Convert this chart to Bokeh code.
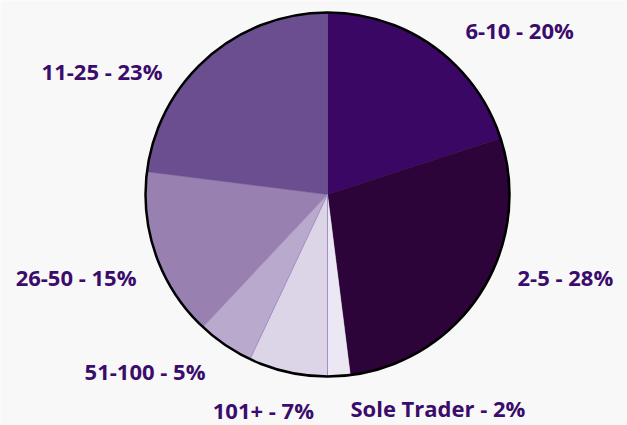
import math
from bokeh.plotting import figure
from bokeh.models import ColumnDataSource
from bokeh.core.properties import value
from bokeh.embed import file_html
from bokeh.resources import INLINE

# ---- data ----
categories = ["6-10", "2-5", "Sole Trader", "101+", "51-100", "26-50", "11-25"]
percents = [20, 28, 2, 7, 5, 15, 23]
colors = ["#3b0764", "#2c0439", "#ece8f3", "#dcd5e7", "#b9a9cc", "#9880b1", "#6b4e90"]

W, H = 627, 425
BG = "#f8f8f8"
TEXT = "#3b0c6b"

cx, cy, r = 327, 231, 182

# wedge angles (clockwise from 12 o'clock)
total = sum(percents)
starts, ends, mids = [], [], []
acc = 0.0
for v in percents:
    a0 = acc / total
    acc += v
    a1 = acc / total
    starts.append(math.pi / 2 - a0 * 2 * math.pi)
    ends.append(math.pi / 2 - a1 * 2 * math.pi)
    mids.append((a0 + a1) / 2 * 2 * math.pi)  # clockwise from top

src = ColumnDataSource(dict(cat=categories, val=percents, color=colors,
                            start=starts, end=ends))

p = figure(width=W, height=H, x_range=(0, W), y_range=(0, H),
           output_backend="svg", toolbar_location=None,
           background_fill_color=BG, border_fill_color=BG,
           min_border=0, outline_line_color=None)
p.axis.visible = False
p.grid.visible = False

p.wedge(x=cx, y=cy, radius=r, start_angle="start", end_angle="end",
        direction="clock", fill_color="color", line_color="color",
        line_width=0.5, source=src)
# thin edge between Sole Trader and 101+
p.wedge(x=cx, y=cy, radius=r, start_angle=starts[3], end_angle=ends[3],
        direction="clock", fill_color=None, line_color="#a48fc0", line_width=1)
p.circle(x=cx, y=cy, radius=r, fill_color=None, line_color="black", line_width=2.5)

# label placement: outside the pie near slice bisector, with small tweaks
label_radius = [1.178, 1.137, 1.182, 1.184, 1.177, 1.142, 1.134]
label_angle_shift = [0.071, -0.158, -0.044, -0.157, 0.009, -0.060, -0.204]
lx, ly, la, texts = [], [], [], []
for i, (c, v) in enumerate(zip(categories, percents)):
    ang = mids[i] + label_angle_shift[i]
    rr = r * label_radius[i]
    lx.append(cx + rr * math.sin(ang))
    ly.append(cy + rr * math.cos(ang))
    la.append("left" if math.sin(mids[i]) >= 0 else "right")
    texts.append(f"{c} - {v}%")

lsrc = ColumnDataSource(dict(x=lx, y=ly, t=texts, a=la))
p.text(x="x", y="y", text="t", text_align="a", text_baseline="middle",
       text_font=value("Open Sans"), text_font_style="bold",
       text_font_size="22px", text_color=TEXT, source=lsrc)

html = file_html(p, INLINE)
html = html.replace("<body>", f'<body style="background:{BG};margin:0">', 1)
open("out.html", "w").write(html)
